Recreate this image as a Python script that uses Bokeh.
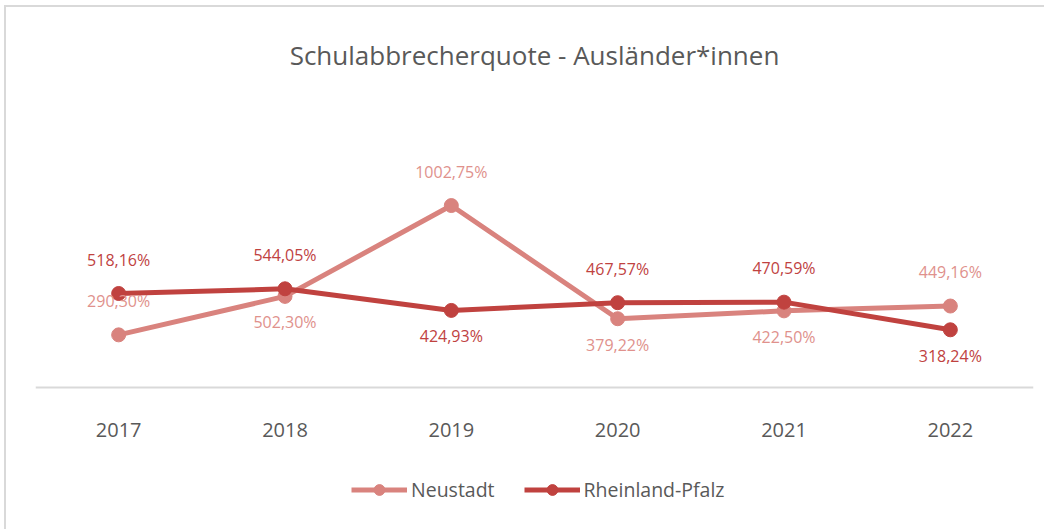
from bokeh.plotting import figure
from bokeh.models import FactorRange, Range1d, Legend, LegendItem, ColumnDataSource
from bokeh.core.properties import value
from bokeh.embed import file_html
from bokeh.resources import INLINE

years = ["2017", "2018", "2019", "2020", "2021", "2022"]
neustadt = [290.30, 502.30, 1002.75, 379.22, 422.50, 449.16]
rlp = [518.16, 544.05, 424.93, 467.57, 470.59, 318.24]
neustadt_pos = ["above", "below", "above", "below", "below", "above"]
rlp_pos = ["above", "above", "below", "above", "above", "below"]

title_text = "Schulabbrecherquote - Ausländer*innen"
FONT = "Open Sans"
C_NEU = "#D9837E"
C_NEU_LBL = "#E0918C"
C_RLP = "#C0423F"
GREY = "#595959"
BORDER = "#D9D9D9"


def fmt(v):
    return f"{v:.2f}".replace(".", ",") + "%"


p = figure(
    width=1040, height=524,
    x_range=FactorRange(*years, range_padding=0),
    y_range=Range1d(-793, 1598),
    output_backend="svg", toolbar_location=None,
    min_border_left=29, min_border_right=13,
    min_border_top=90, min_border_bottom=0,
)
p.styles = {
    "margin-left": "6px",
    "margin-top": "7px",
    "box-shadow": f"-2px -2px 0px 0px {BORDER}",
}
p.outline_line_color = None
p.background_fill_color = "white"
p.border_fill_color = "white"
p.grid.visible = False
p.yaxis.visible = False

p.title.text = title_text
p.title.align = "center"
p.title.text_font = FONT
p.title.text_font_size = "26px"
p.title.text_font_style = "normal"
p.title.text_color = GREY
p.title.standoff = 49

ax = p.xaxis[0]
ax.fixed_location = 0
ax.axis_line_color = BORDER
ax.axis_line_width = 2
ax.major_tick_line_color = None
ax.minor_tick_line_color = None
ax.major_tick_out = 0
ax.major_tick_in = 0
ax.major_label_text_font = FONT
ax.major_label_text_font_size = "20px"
ax.major_label_text_color = GREY
ax.major_label_standoff = 35

r_neu_l = p.line(years, neustadt, line_color=C_NEU, line_width=5)
r_neu_m = p.scatter(years, neustadt, size=14, fill_color=C_NEU, line_color=C_NEU)
r_rlp_l = p.line(years, rlp, line_color=C_RLP, line_width=5)
r_rlp_m = p.scatter(years, rlp, size=14, fill_color=C_RLP, line_color=C_RLP)


def labels(vals, pos, color):
    src = ColumnDataSource(dict(
        x=years, y=vals, t=[fmt(v) for v in vals],
        dy=[-34 if q == "above" else 26 for q in pos],
    ))
    p.text(x="x", y="y", text="t", y_offset="dy", source=src,
           text_font=value(FONT), text_font_size="16px", text_color=color,
           text_align="center", text_baseline="middle")


labels(neustadt, neustadt_pos, C_NEU_LBL)
labels(rlp, rlp_pos, C_RLP)

legend = Legend(items=[
    LegendItem(label="Neustadt", renderers=[r_neu_l, r_neu_m]),
    LegendItem(label="Rheinland-Pfalz", renderers=[r_rlp_l, r_rlp_m]),
], location=(316, 28), orientation="horizontal")
legend.glyph_width = 56
legend.glyph_height = 27
legend.label_standoff = 4
legend.spacing = 29
legend.padding = 0
legend.margin = 0
legend.border_line_color = None
legend.background_fill_alpha = 0
legend.label_text_font = FONT
legend.label_text_font_size = "19.5px"
legend.label_text_color = GREY
p.add_layout(legend, "center")

open("out.html", "w").write(file_html(p, INLINE))
